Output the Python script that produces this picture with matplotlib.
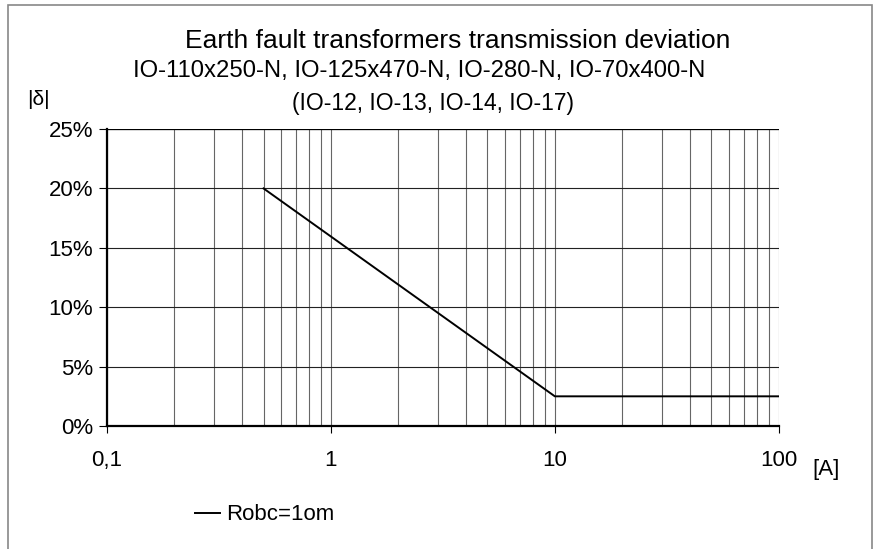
import matplotlib.pyplot as plt
import matplotlib.ticker as mticker
import numpy as np

plt.rcParams['font.family'] = ['Liberation Sans', 'DejaVu Sans']

# data
current = [0.5, 10, 100]
deviation = [20, 2.5, 2.5]
series_label = 'Robc=1om'
x_ticks = [0.1, 1, 10, 100]
x_labels = ['0,1', '1', '10', '100']
y_ticks = [0, 5, 10, 15, 20, 25]

fig = plt.figure(figsize=(8.77, 5.49), dpi=100)
ax = fig.add_axes([0.122, 0.224, 0.766, 0.541])

ax.plot(current, deviation, color='black', lw=1.4, label=series_label)
ax.set_xscale('log')
ax.set_xlim(0.1, 100)
ax.set_ylim(0, 25)

ax.set_xticks(x_ticks)
ax.set_xticklabels(x_labels)
ax.xaxis.set_minor_locator(mticker.LogLocator(base=10, subs=np.arange(2, 10)))
ax.xaxis.set_minor_formatter(mticker.NullFormatter())
ax.set_yticks(y_ticks)
ax.set_yticklabels([f'{v}%' for v in y_ticks])

ax.grid(True, which='both', axis='x', color='#666666', lw=0.8)
ax.grid(True, which='major', axis='y', color='#222222', lw=0.8)
ax.tick_params(axis='x', which='minor', length=0)
ax.tick_params(axis='x', which='major', direction='out', length=5, pad=12, labelsize=16)
ax.tick_params(axis='y', direction='out', length=6, pad=4, labelsize=16)
for s in ['left', 'bottom']:
    ax.spines[s].set_linewidth(1.6)
for s in ['top', 'right']:
    ax.spines[s].set_visible(False)
ax.axhline(25, color='black', lw=1.6)

fig.text(0.522, 0.925, 'Earth fault transformers transmission deviation', ha='center', va='center', fontsize=19)
fig.text(0.478, 0.870, 'IO-110x250-N, IO-125x470-N, IO-280-N, IO-70x400-N', ha='center', va='center', fontsize=17.2)
fig.text(0.494, 0.812, '(IO-12, IO-13, IO-14, IO-17)', ha='center', va='center', fontsize=16.5)
fig.text(0.044, 0.818, '|δ|', ha='center', va='center', fontsize=15)
fig.text(0.942, 0.145, '[A]', ha='center', va='center', fontsize=16)

fig.legend(loc='center', bbox_to_anchor=(0.302, 0.062), frameon=False, fontsize=16,
           handlelength=1.1, handletextpad=0.3)

border = plt.Rectangle((0.009, -0.1), 0.985, 1.09, transform=fig.transFigure, fill=False, edgecolor='#888888', lw=1.2)
fig.patches.append(border)

fig.savefig('out.png', dpi=100)
